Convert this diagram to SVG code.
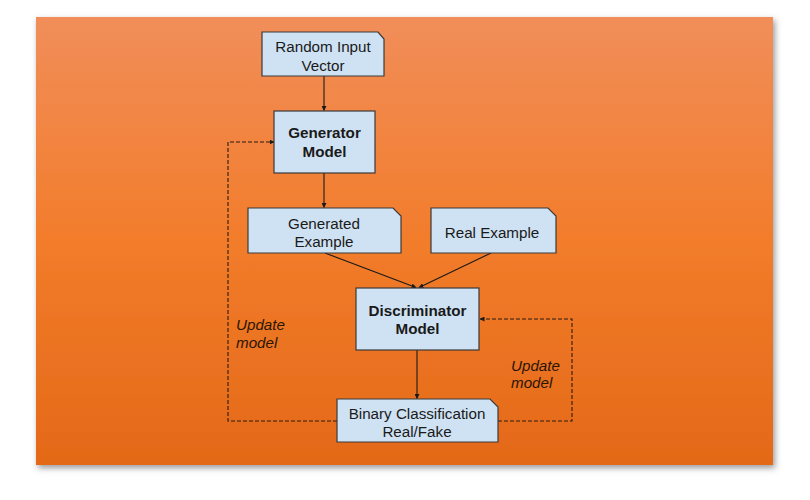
<svg xmlns="http://www.w3.org/2000/svg" width="810" height="500" viewBox="0 0 810 500">
  <defs>
    <linearGradient id="bg" x1="0" y1="0" x2="0" y2="1">
      <stop offset="0" stop-color="#F18E5A"/>
      <stop offset="0.5" stop-color="#F27C2B"/>
      <stop offset="1" stop-color="#E46918"/>
    </linearGradient>
    <filter id="sh" x="-5%" y="-5%" width="112%" height="115%">
      <feDropShadow dx="2" dy="3" stdDeviation="3" flood-color="#555" flood-opacity="0.6"/>
    </filter>
    <marker id="arr" viewBox="0 0 10 10" refX="9" refY="5" markerWidth="5" markerHeight="5" orient="auto" markerUnits="userSpaceOnUse">
      <path d="M0,0 L10,5 L0,10 z" fill="#1a1a1a"/>
    </marker>
  </defs>
  <style>
    .node { fill: #CFE2F3; stroke: #3a3a3a; stroke-width: 1.2; }
    .t { font-family: "Liberation Sans", Arial, sans-serif; font-size: 15.2px; fill: #1a1a1a; text-anchor: middle; }
    .b { font-weight: bold; }
    .lbl { font-family: "Liberation Sans", Arial, sans-serif; font-size: 15.2px; font-style: italic; fill: #2a1505; }
    .c { fill: none; stroke: #1a1a1a; stroke-width: 1.1; }
    .d { fill: none; stroke: #2a1a10; stroke-width: 1.1; stroke-dasharray: 4,2; }
  </style>
  <rect x="0" y="0" width="810" height="500" fill="#ffffff"/>
  <rect x="36" y="17" width="737" height="448" fill="url(#bg)" filter="url(#sh)"/>

  <g id="connectors">
    <line class="c" x1="324" y1="76" x2="324" y2="110.5" marker-end="url(#arr)"/>
    <line class="c" x1="324" y1="173" x2="324" y2="207.5" marker-end="url(#arr)"/>
    <line class="c" x1="325" y1="253" x2="416" y2="287.5" marker-end="url(#arr)"/>
    <line class="c" x1="491" y1="253" x2="419" y2="287.5" marker-end="url(#arr)"/>
    <line class="c" x1="417" y1="350" x2="417" y2="398.5" marker-end="url(#arr)"/>
    <polyline class="d" points="337,421 228,421 228,142 274,142" marker-end="url(#arr)"/>
    <polyline class="d" points="498,421 572,421 572,319 480,319" marker-end="url(#arr)"/>
  </g>

  <g id="random-input-vector">
    <path class="node" d="M262,32 H378 L384,39 V76 H262 Z"/>
    <text class="t" x="323" y="52">Random Input</text>
    <text class="t" x="323" y="71">Vector</text>
  </g>
  <g id="generator-model">
    <rect class="node" x="274" y="111" width="101" height="62"/>
    <text class="t b" x="324.5" y="138">Generator</text>
    <text class="t b" x="324.5" y="157">Model</text>
  </g>
  <g id="generated-example">
    <path class="node" d="M248,208 H393 L401,216 V253 H248 Z"/>
    <text class="t" x="324" y="229">Generated</text>
    <text class="t" x="324" y="247">Example</text>
  </g>
  <g id="real-example">
    <path class="node" d="M431,208 H548 L556,216 V253 H431 Z"/>
    <text class="t" x="492" y="238">Real Example</text>
  </g>
  <g id="discriminator-model">
    <rect class="node" x="356" y="288" width="123" height="62"/>
    <text class="t b" x="417.5" y="316">Discriminator</text>
    <text class="t b" x="417.5" y="334">Model</text>
  </g>
  <g id="binary-classification">
    <path class="node" d="M337,399 H490 L498,407 V442 H337 Z"/>
    <text class="t" x="417" y="419">Binary Classification</text>
    <text class="t" x="417" y="437">Real/Fake</text>
  </g>

  <text class="lbl" x="236" y="330">Update</text>
  <text class="lbl" x="236" y="348">model</text>
  <text class="lbl" x="511" y="371">Update</text>
  <text class="lbl" x="511" y="388">model</text>
</svg>
